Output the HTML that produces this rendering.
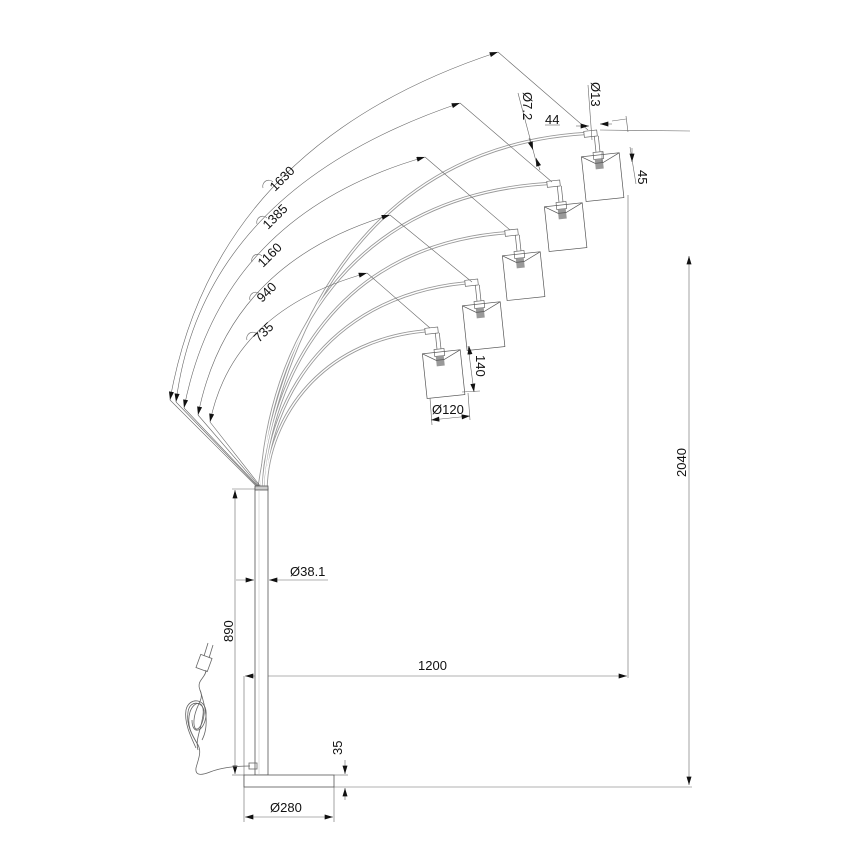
<!DOCTYPE html>
<html><head><meta charset="utf-8"><style>
html,body{margin:0;padding:0;background:#fff;}
svg{display:block}
text{font-family:"Liberation Sans",sans-serif;font-size:13px;fill:#111}
</style></head><body>
<svg width="868" height="868" viewBox="0 0 868 868" xmlns="http://www.w3.org/2000/svg">
<defs>
<marker id="a" viewBox="0 0 10 6" refX="10" refY="3" markerWidth="9" markerHeight="5" orient="auto-start-reverse" markerUnits="userSpaceOnUse"><path d="M0,0 L10,3 L0,6 z" fill="#111"/></marker>
<g id="lamp">
 <rect x="-13" y="-3" width="13" height="6" fill="#fff" stroke="#666" stroke-width="0.7"/>
 <line x1="-3" y1="3" x2="-3" y2="19" stroke="#666" stroke-width="0.7"/>
 <line x1="1" y1="3" x2="1" y2="19" stroke="#666" stroke-width="0.7"/>
 <rect x="-6" y="19" width="10" height="7" fill="#fff" stroke="#666" stroke-width="0.7"/>
 <rect x="-5" y="26" width="8" height="10" fill="#999"/>
 <polygon points="-18,22 20,22 20,67 -18,67" fill="none" stroke="#555" stroke-width="0.7"/>
 <polyline points="-18,22 -5,30 3,30 20,22" fill="none" stroke="#555" stroke-width="0.7"/>
</g>
</defs>
<g fill="none" stroke="#999" stroke-width="3.2">
<path d="M266,488 C268,420 320,335 438,330"/>
<path d="M265,488 C268,400 330,290 478,282"/>
<path d="M263,488 C270,380 335,240 518,232"/>
<path d="M261,488 C268,350 345,190 560,183"/>
<path d="M259,488 C285,310 380,140 597,133"/>
</g>
<g fill="none" stroke="#fff" stroke-width="1.4">
<path d="M266,488 C268,420 320,335 438,330"/>
<path d="M265,488 C268,400 330,290 478,282"/>
<path d="M263,488 C270,380 335,240 518,232"/>
<path d="M261,488 C268,350 345,190 560,183"/>
<path d="M259,488 C285,310 380,140 597,133"/>
</g>
<use href="#lamp" transform="translate(438,330) rotate(-6)"/>
<use href="#lamp" transform="translate(478,282) rotate(-6)"/>
<use href="#lamp" transform="translate(518,232) rotate(-6)"/>
<use href="#lamp" transform="translate(560,183) rotate(-6)"/>
<use href="#lamp" transform="translate(597,133) rotate(-6)"/>

<g fill="none" stroke="#666" stroke-width="0.6">
<path d="M170,400 Q215,145 498,52" marker-start="url(#a)" marker-end="url(#a)"/>
<path d="M176,402 Q203,190 460,103" marker-start="url(#a)" marker-end="url(#a)"/>
<path d="M184,408 Q222,215 425,157" marker-start="url(#a)" marker-end="url(#a)"/>
<path d="M198,415 Q228,263 390,215" marker-start="url(#a)" marker-end="url(#a)"/>
<path d="M210,422 Q233,310 367,273" marker-start="url(#a)" marker-end="url(#a)"/>
<line x1="170" y1="400" x2="257" y2="487"/>
<line x1="176" y1="402" x2="258" y2="487"/>
<line x1="184" y1="408" x2="259" y2="487"/>
<line x1="198" y1="415" x2="260" y2="487"/>
<line x1="210" y1="422" x2="261" y2="487"/>
<line x1="498" y1="52" x2="588" y2="130"/>
<line x1="460" y1="103" x2="552" y2="182"/>
<line x1="425" y1="157" x2="510" y2="230"/>
<line x1="390" y1="215" x2="472" y2="282"/>
<line x1="367" y1="273" x2="430" y2="328"/>
<path d="M263,188 a6,6 0 0 1 10,-6"/>
<path d="M257,224 a6,6 0 0 1 10,-6"/>
<path d="M252,262 a6,6 0 0 1 10,-6"/>
<path d="M250,300 a6,6 0 0 1 10,-6"/>
<path d="M247,340 a6,6 0 0 1 10,-6"/>
<line x1="518" y1="93" x2="537" y2="165"/>
<line x1="529" y1="138" x2="533" y2="150" marker-end="url(#a)"/>
<line x1="540" y1="170" x2="536" y2="158" marker-end="url(#a)"/>
<line x1="545" y1="125" x2="560" y2="125"/>
<line x1="576" y1="126" x2="589" y2="126" marker-end="url(#a)"/>
<line x1="612" y1="124" x2="600" y2="124" marker-end="url(#a)"/>
<line x1="612" y1="121" x2="626" y2="119"/>
<line x1="588" y1="85" x2="592" y2="140"/>
<line x1="626" y1="116" x2="628" y2="132"/>
<line x1="600" y1="130" x2="690" y2="131"/>
<line x1="630" y1="147" x2="636" y2="184"/>
<line x1="632" y1="148" x2="632" y2="162" marker-end="url(#a)"/>
<line x1="602" y1="152" x2="602" y2="162"/>
<line x1="468" y1="346" x2="474" y2="392"/>
<line x1="470" y1="355" x2="469" y2="346" marker-end="url(#a)"/>
<line x1="473" y1="385" x2="474" y2="392" marker-end="url(#a)"/>
<line x1="462" y1="392" x2="480" y2="391"/>
<line x1="430" y1="398" x2="432" y2="425"/>
<line x1="468" y1="393" x2="470" y2="420"/>
<line x1="431" y1="420" x2="470" y2="416" marker-start="url(#a)" marker-end="url(#a)"/>
<line x1="628" y1="195" x2="628" y2="678"/>
<line x1="245" y1="676" x2="627" y2="676" marker-start="url(#a)" marker-end="url(#a)"/>
<line x1="689" y1="256" x2="689" y2="785" marker-start="url(#a)" marker-end="url(#a)"/>
<line x1="334" y1="787" x2="692" y2="787"/>
<line x1="244" y1="676" x2="244" y2="822"/>
<line x1="334" y1="787" x2="334" y2="822"/>
<line x1="245" y1="817" x2="333" y2="817" marker-start="url(#a)" marker-end="url(#a)"/>
<line x1="232" y1="489" x2="256" y2="489"/>
<line x1="235" y1="490" x2="235" y2="774" marker-start="url(#a)" marker-end="url(#a)"/>
<line x1="232" y1="775" x2="244" y2="775"/>
<line x1="236" y1="580" x2="254" y2="580" marker-end="url(#a)"/>
<line x1="328" y1="580" x2="269" y2="580" marker-end="url(#a)"/>
<line x1="345" y1="760" x2="345" y2="774" marker-end="url(#a)"/>
<line x1="345" y1="800" x2="345" y2="788" marker-end="url(#a)"/>
<line x1="334" y1="775" x2="348" y2="775"/>
</g>

<g fill="#fff" stroke="#555" stroke-width="0.8">
<rect x="255" y="488" width="13" height="287"/>
<rect x="255" y="486" width="13" height="4" fill="#ccc"/>
<rect x="244" y="775" width="90" height="12"/>
</g>
<line x1="259" y1="490" x2="259" y2="775" stroke="#bbb" stroke-width="0.5"/>

<g fill="none" stroke="#666" stroke-width="0.8">
<path d="M250,766 C235,766 220,768 210,772 C200,776 195,775 196,768 C198,760 202,752 198,745 C192,735 186,725 190,712 C194,700 205,700 203,715 C201,730 195,740 198,750"/>
<path d="M198,745 C192,735 186,725 188,712 C190,698 206,702 204,715 C202,730 193,735 194,720 C195,705 205,700 200,690 C196,680 206,678 206,670"/>
<path d="M202,740 C210,725 205,705 200,690"/>
<path d="M196,748 C190,735 184,722 186,710 C189,696 208,698 206,716 C204,732 192,736 192,720"/>
<rect x="198" y="656" width="12" height="14" transform="rotate(20 204 663)"/>
<line x1="204" y1="656" x2="208" y2="643"/>
<line x1="209" y1="658" x2="213" y2="645"/>
<rect x="249" y="763" width="8" height="6"/>
</g>

<text transform="translate(275,192) rotate(-45)">1630</text>
<text transform="translate(268,230) rotate(-45)">1385</text>
<text transform="translate(263,268) rotate(-45)">1160</text>
<text transform="translate(262,303) rotate(-45)">940</text>
<text transform="translate(259,343) rotate(-45)">735</text>
<text transform="translate(523,92) rotate(90)">Ø7.2</text>
<text x="545" y="124">44</text>
<text transform="translate(591,82) rotate(90)">Ø13</text>
<text transform="translate(638,170) rotate(90)">45</text>
<text transform="translate(476,355) rotate(90)">140</text>
<text x="432" y="414">Ø120</text>
<text x="418" y="670">1200</text>
<text transform="translate(686,477) rotate(-90)">2040</text>
<text transform="translate(233,642) rotate(-90)">890</text>
<text x="290" y="576">Ø38.1</text>
<text transform="translate(342,755) rotate(-90)">35</text>
<text x="270" y="812">Ø280</text>
</svg>
</body></html>
